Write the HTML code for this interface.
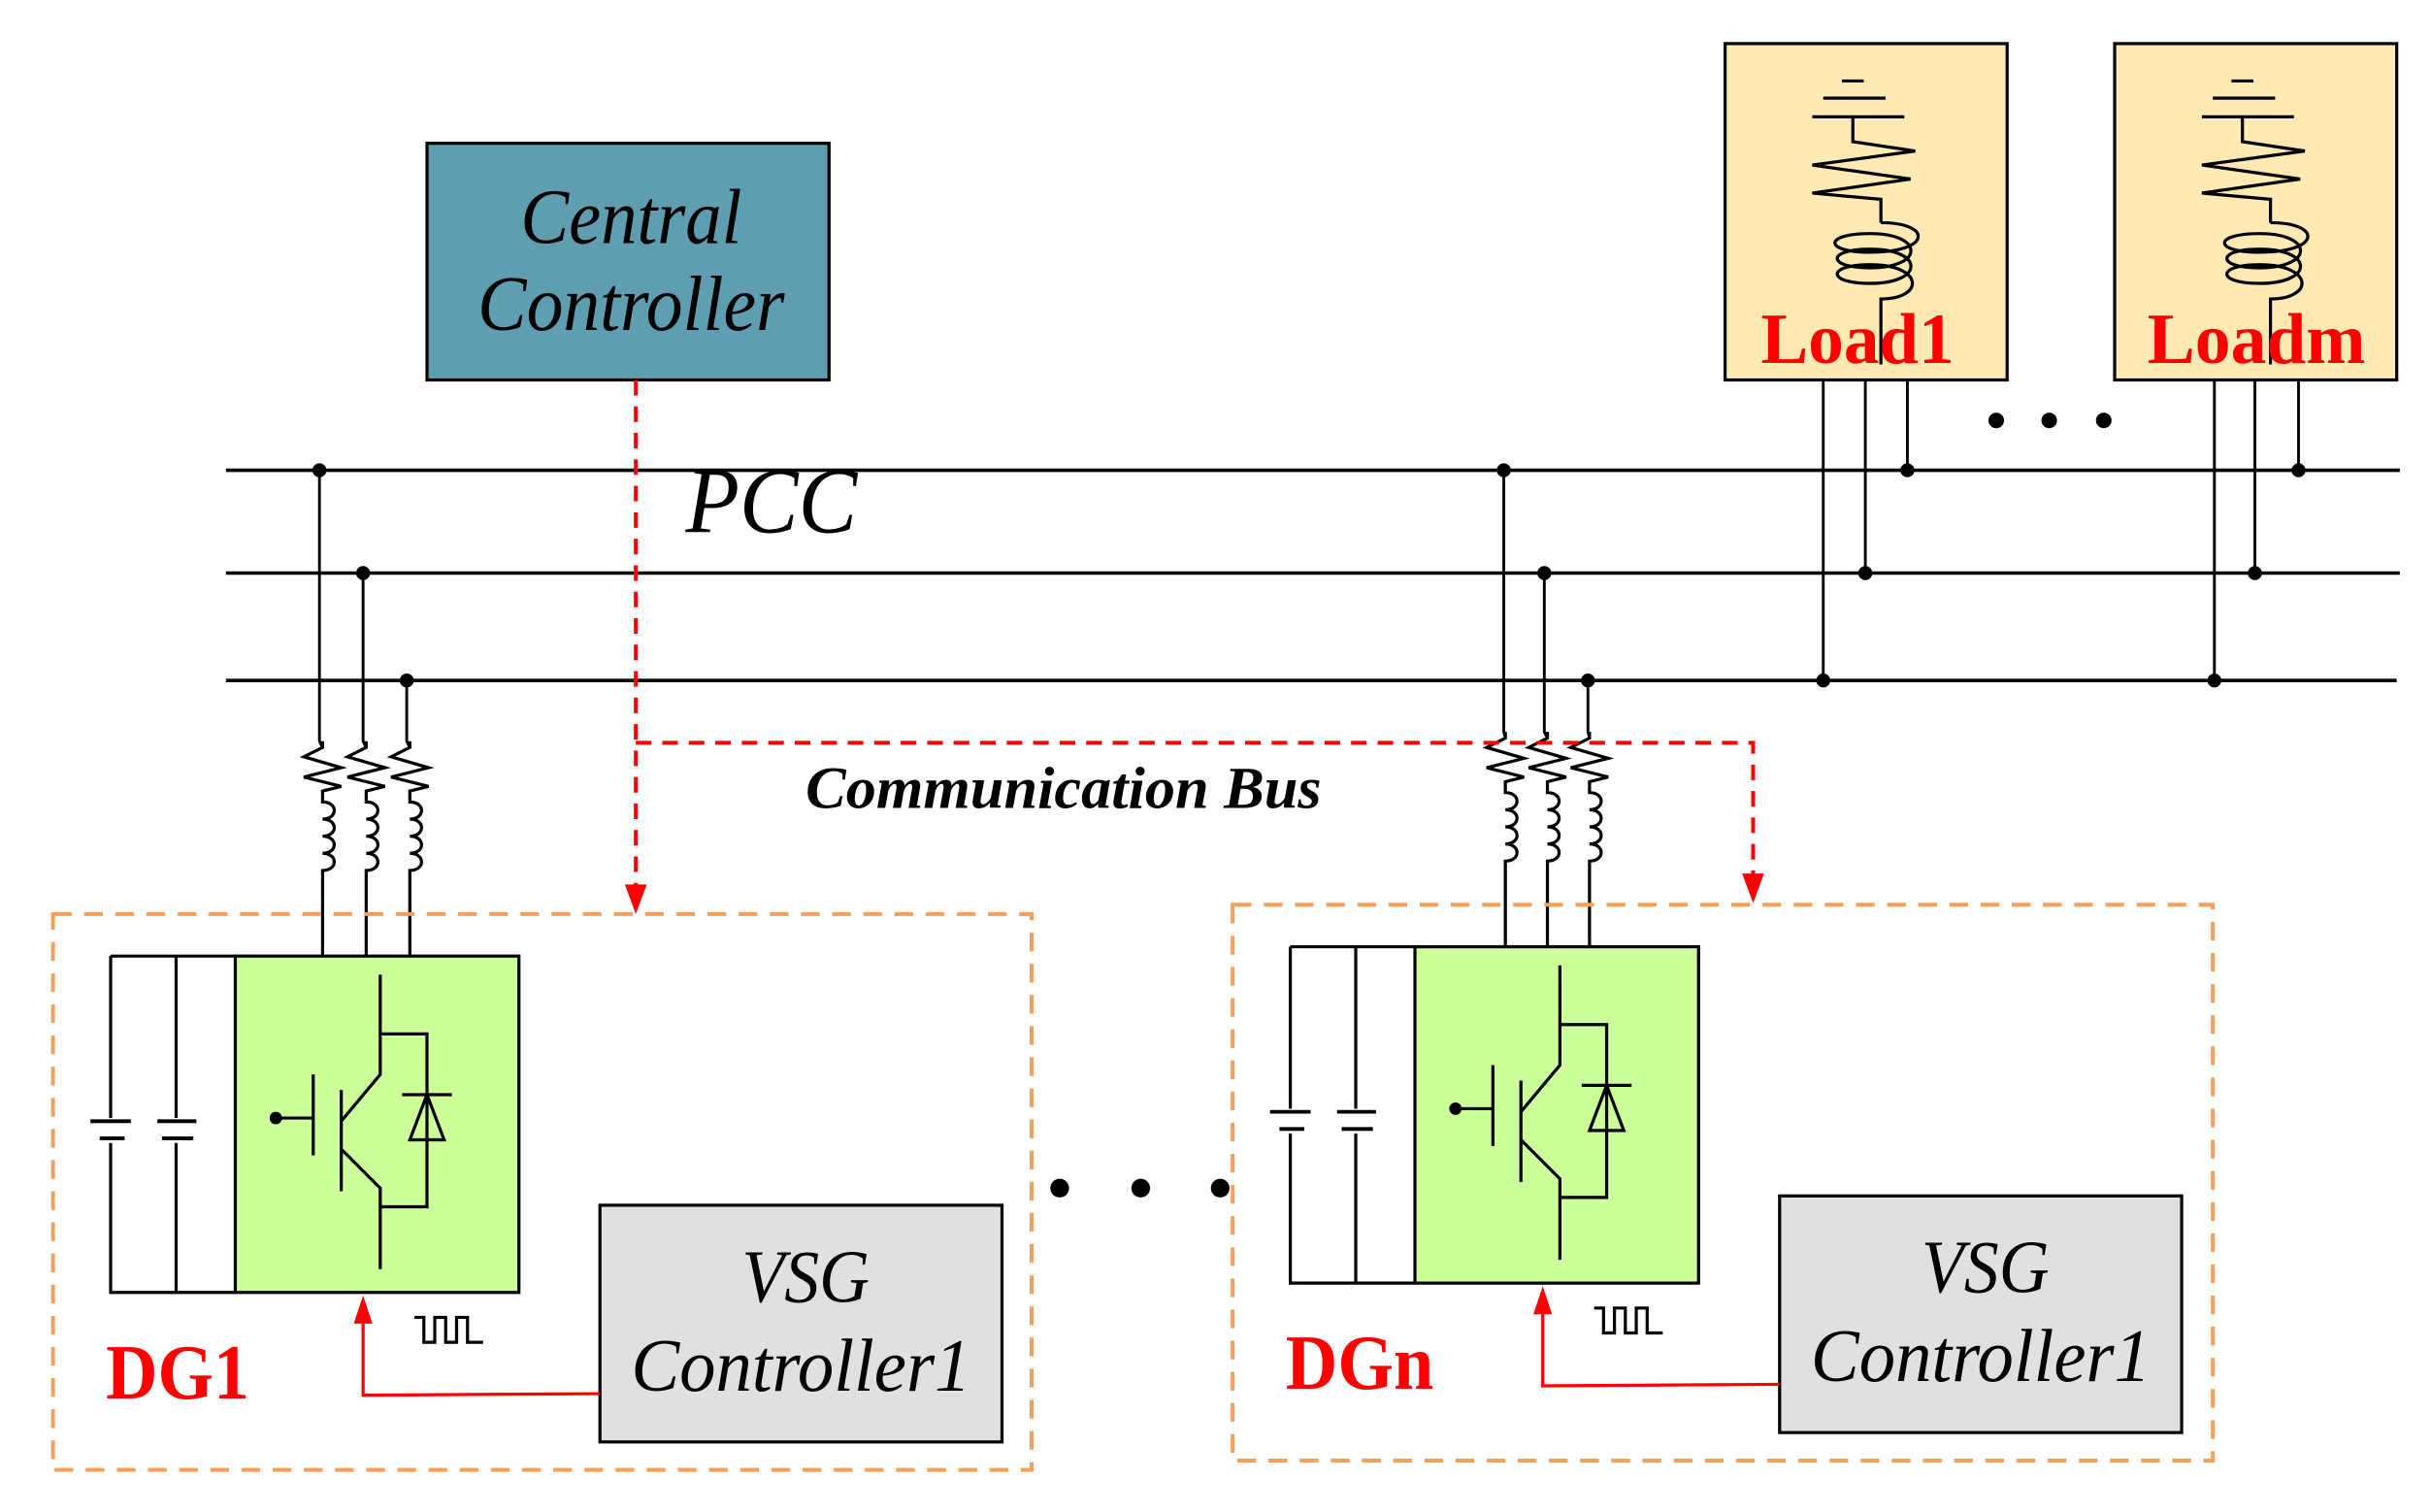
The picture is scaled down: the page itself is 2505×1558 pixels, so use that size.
<!DOCTYPE html>
<html><head><meta charset="utf-8"><style>
html,body{margin:0;padding:0;background:#fff;}
svg{display:block;}
</style></head><body>
<svg width="2505" height="1558" viewBox="0 0 1560 971" preserveAspectRatio="none" xmlns="http://www.w3.org/2000/svg">
<defs>
<g id="dg">
  <rect x="151" y="614" width="182" height="216" fill="#ccff99" stroke="#000" stroke-width="2"/>
  <path d="M151 614 H71 M71 614 V830 H151 M113 614 V830" fill="none" stroke="#000" stroke-width="2"/>
  <rect x="60" y="718" width="24" height="16" fill="#fff"/>
  <rect x="102" y="718" width="24" height="16" fill="#fff"/>
  <path d="M58 720 H84 M64 731 H80 M101 720 H126 M104 731 H124" stroke="#000" stroke-width="2.4"/>
  <path d="M244 626 V690 L219 720 M219 700 V765 M219 738 L244 763 V815 M244 664 H274 V775 H244 M201 690 V742 M177 718 H201" fill="none" stroke="#000" stroke-width="2"/>
  <circle cx="177" cy="718" r="4" fill="#000"/>
  <path d="M258 703 H290 M274 703 L263 732 H285 Z" fill="none" stroke="#000" stroke-width="2"/>
  <rect x="385" y="774" width="258" height="152" fill="#e0e0e0" stroke="#000" stroke-width="2"/>
  <text x="517" y="836" font-family="Liberation Serif, serif" font-style="italic" font-size="48" text-anchor="middle" textLength="82" lengthAdjust="spacingAndGlyphs">VSG</text>
  <text x="514" y="893" font-family="Liberation Serif, serif" font-style="italic" font-size="48" text-anchor="middle" textLength="218" lengthAdjust="spacingAndGlyphs">Controller1</text>
  <path d="M385 895 L233 896 V845" fill="none" stroke="#f00" stroke-width="2"/>
  <path d="M233 832 L227 850 H239 Z" fill="#f00"/>
  <path d="M266 846 H272 V862 H279 V846 H286 V862 H293 V846 H300 V862 H310" fill="none" stroke="#000" stroke-width="2"/>
</g>
<g id="tap">
  <path d="M0 476 V480 L-12 486 L12 493 L-12 499 L12 505 L0 508 V515 C10 515 10 526 0 526 C10 526 10 537 0 537 C10 537 10 548 0 548 C10 548 10 559 0 559 V614" fill="none" stroke="#000" stroke-width="2"/>
</g>
<g id="loadsym">
  <path d="M1182 52 H1196 M1170 63 H1210 M1163 75 H1222 M1189 75 V91 L1229 97 L1163 106 L1226 115 L1163 124 L1207 128 V143" fill="none" stroke="#000" stroke-width="2"/>
  <path d="M1207 143 C1240 143 1240 162 1200 162 C1170 162 1170 150 1200 150 C1235 150 1235 172 1200 172 C1172 172 1172 160 1200 160 C1235 160 1235 182 1200 182 C1172 182 1172 170 1200 170 C1235 170 1235 192 1207 192 V234" fill="none" stroke="#000" stroke-width="2"/>
</g>
</defs>

<rect x="274" y="92" width="258" height="152" fill="#5f9eb0" stroke="#000" stroke-width="2"/>
<text x="405" y="156" font-family="Liberation Serif, serif" font-style="italic" font-size="50" text-anchor="middle" textLength="142" lengthAdjust="spacingAndGlyphs">Central</text>
<text x="405" y="212" font-family="Liberation Serif, serif" font-style="italic" font-size="50" text-anchor="middle" textLength="197" lengthAdjust="spacingAndGlyphs">Controller</text>

<rect x="1107" y="28" width="181" height="216" fill="#ffeab3" stroke="#000" stroke-width="2"/>
<use href="#loadsym"/>
<text x="1192" y="233" font-family="Liberation Serif, serif" font-weight="bold" font-size="46" fill="#f00" text-anchor="middle" textLength="124" lengthAdjust="spacingAndGlyphs">Load1</text>
<rect x="1357" y="28" width="181" height="216" fill="#ffeab3" stroke="#000" stroke-width="2"/>
<use href="#loadsym" transform="translate(250,0)"/>
<text x="1448" y="233" font-family="Liberation Serif, serif" font-weight="bold" font-size="46" fill="#f00" text-anchor="middle" textLength="140" lengthAdjust="spacingAndGlyphs">Loadm</text>

<path d="M1170 244 V437 M1197 244 V368 M1224 244 V302 M1421 244 V437 M1447 244 V368 M1475 244 V302" stroke="#000" stroke-width="1.8"/>
<circle cx="1281" cy="270" r="5" fill="#000"/><circle cx="1315" cy="270" r="5" fill="#000"/><circle cx="1350" cy="270" r="5" fill="#000"/>

<path d="M145 302 H1540 M145 368 H1540 M145 437 H1538" stroke="#000" stroke-width="2.2"/>
<text x="440" y="342" font-family="Liberation Serif, serif" font-style="italic" font-size="60" textLength="110" lengthAdjust="spacingAndGlyphs">PCC</text>

<g fill="#000">
<circle cx="205" cy="302" r="4.5"/><circle cx="233" cy="368" r="4.5"/><circle cx="261" cy="437" r="4.5"/>
<circle cx="965" cy="302" r="4.5"/><circle cx="991" cy="368" r="4.5"/><circle cx="1019" cy="437" r="4.5"/>
<circle cx="1224" cy="302" r="4.5"/><circle cx="1197" cy="368" r="4.5"/><circle cx="1170" cy="437" r="4.5"/>
<circle cx="1475" cy="302" r="4.5"/><circle cx="1447" cy="368" r="4.5"/><circle cx="1421" cy="437" r="4.5"/>
</g>

<path d="M205 302 V476 L207 480 M233 368 V476 L235 480 M261 437 V476 L263 480" fill="none" stroke="#000" stroke-width="1.8"/>
<use href="#tap" transform="translate(207,0)"/>
<use href="#tap" transform="translate(235,0)"/>
<use href="#tap" transform="translate(263,0)"/>
<path d="M965 302 V470 L966 474 M991 368 V470 L993 474 M1019 437 V470 L1020 474" fill="none" stroke="#000" stroke-width="1.8"/>
<use href="#tap" transform="translate(966,-6)"/>
<use href="#tap" transform="translate(993,-6)"/>
<use href="#tap" transform="translate(1020,-6)"/>

<use href="#dg"/>
<use href="#dg" transform="translate(757,-6)"/>

<rect x="34" y="587" width="628" height="357" fill="none" stroke="#f4a05a" stroke-width="2.5" stroke-dasharray="12,8"/>
<rect x="791" y="581" width="629" height="357" fill="none" stroke="#f4a05a" stroke-width="2.5" stroke-dasharray="12,8"/>

<text x="68" y="898" font-family="Liberation Serif, serif" font-weight="bold" font-size="50" fill="#f00" textLength="92" lengthAdjust="spacingAndGlyphs">DG1</text>
<text x="825" y="892" font-family="Liberation Serif, serif" font-weight="bold" font-size="50" fill="#f00" textLength="95" lengthAdjust="spacingAndGlyphs">DGn</text>

<circle cx="680" cy="763" r="6" fill="#000"/><circle cx="732" cy="763" r="6" fill="#000"/><circle cx="783" cy="763" r="6" fill="#000"/>

<path d="M408 244 V572 M408 477 H1125 V566" fill="none" stroke="#f00" stroke-width="2.5" stroke-dasharray="10,7"/>
<path d="M408 587 L401 568 H415 Z" fill="#f00"/>
<path d="M1125 580 L1118 561 H1132 Z" fill="#f00"/>
<text x="517" y="519" font-family="Liberation Serif, serif" font-weight="bold" font-style="italic" font-size="38" textLength="331" lengthAdjust="spacingAndGlyphs">Communication Bus</text>
</svg>
</body></html>
